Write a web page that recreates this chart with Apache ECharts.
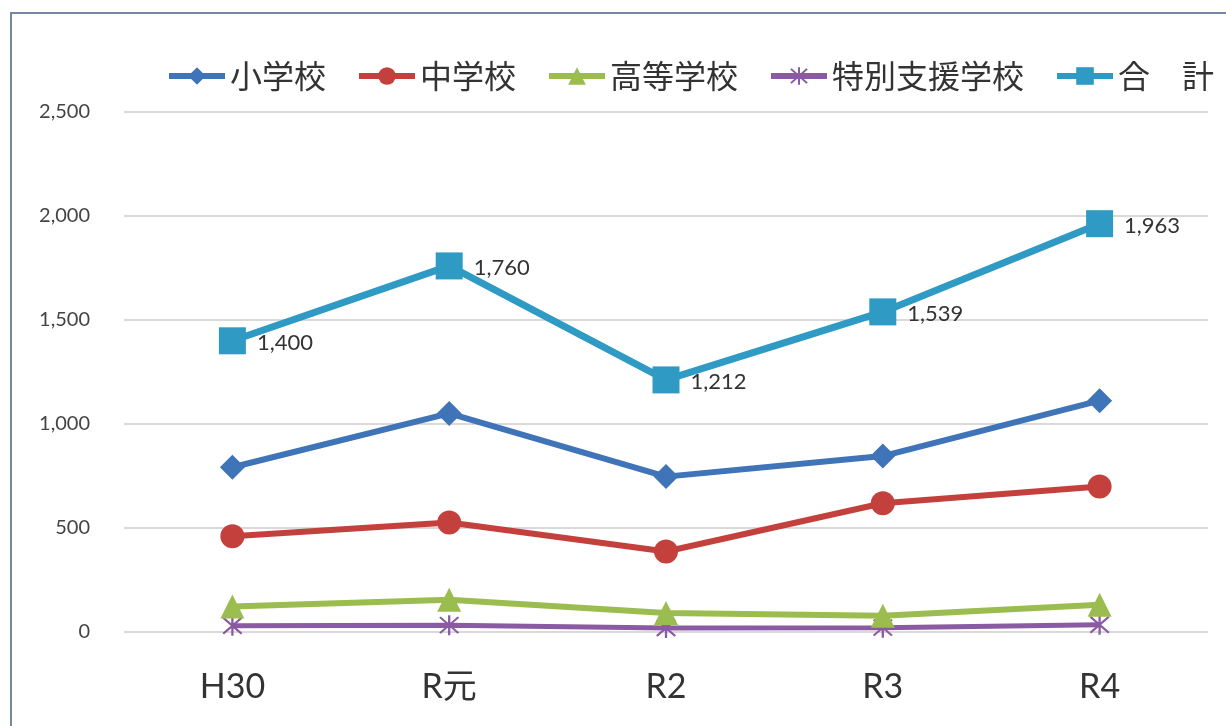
<!DOCTYPE html>
<html><head><meta charset="utf-8">
<script src="https://cdn.jsdelivr.net/npm/echarts@6/dist/echarts.min.js"></script>
<style>html,body{margin:0;padding:0;background:#fff}#c{width:1226px;height:726px}</style>
</head><body><div id="c"></div>
<script>
const categories = ['H30', 'R元', 'R2', 'R3', 'R4'];
const elementary = [792, 1051, 747, 846, 1112];
const juniorHigh = [460, 526, 387, 619, 699];
const highSchool = [123, 155, 91, 78, 131];
const special = [30, 33, 19, 21, 35];
const total = [1400, 1760, 1212, 1539, 1963];
const seriesNames = ['小学校', '中学校', '高等学校', '特別支援学校', '合　計'];
const yTicks = [0, 500, 1000, 1500, 2000, 2500];

const colors = ['#3f74b8', '#c4403d', '#9bbd4f', '#8a5aa2', '#2f9ac3'];
const numFont = 'Lato, "Open Sans", "Noto Sans CJK JP", sans-serif';
const asterisk = 'path://M9,0 L11,0 L11,20 L9,20 Z M1.3,2.7 L2.7,1.3 L18.7,17.3 L17.3,18.7 Z M17.3,1.3 L18.7,2.7 L2.7,18.7 L1.3,17.3 Z';

const chart = echarts.init(document.getElementById('c'));
function mk(name, data, color, symbol, size, width, z) {
  return {
    name, type: 'line', data, symbol, symbolSize: size, z,
    lineStyle: { color, width },
    itemStyle: { color, borderWidth: 0 },
    emphasis: { disabled: true }
  };
}
const tot = mk(seriesNames[4], total, colors[4], 'rect', 27, 7, 6);
tot.label = {
  show: true, position: 'right', distance: 11,
  fontFamily: numFont, fontSize: 22, color: '#333', offset: [0, 2],
  formatter: p => p.value.toLocaleString('en-US')
};
chart.setOption({
  animation: false,
  color: colors,
  graphic: [{
    type: 'rect', shape: { x: 11, y: 13, width: 1240, height: 740 },
    style: { fill: 'none', stroke: '#7787a0', lineWidth: 2 }, z: -1
  }],
  legend: {
    left: 161, top: 55, itemWidth: 56, itemHeight: 22, itemGap: 30,
    lineStyle: { width: 6 },
    textStyle: { fontFamily: '"Noto Sans CJK JP", sans-serif', fontSize: 32, color: '#333' },
    data: seriesNames
  },
  grid: { left: 124, right: 18, top: 112, bottom: 94 },
  xAxis: {
    type: 'category', data: categories, boundaryGap: true,
    axisLine: { show: false }, axisTick: { show: false },
    axisLabel: { fontFamily: numFont, fontSize: 34, color: '#333', margin: 38 }
  },
  yAxis: {
    type: 'value', min: yTicks[0], max: yTicks[yTicks.length - 1], interval: 500,
    axisLine: { show: false }, axisTick: { show: false },
    axisLabel: { fontFamily: numFont, fontSize: 20, color: '#444', margin: 34,
      formatter: v => v.toLocaleString('en-US') },
    splitLine: { lineStyle: { color: '#cccccc', width: 1.5 } }
  },
  series: [
    mk(seriesNames[0], elementary, colors[0], 'diamond', 25, 6, 5),
    mk(seriesNames[1], juniorHigh, colors[1], 'circle', 24, 6, 4),
    mk(seriesNames[2], highSchool, colors[2], 'triangle', 24, 6, 3),
    mk(seriesNames[3], special, colors[3], asterisk, 20, 5, 2),
    tot
  ]
});
</script></body></html>
